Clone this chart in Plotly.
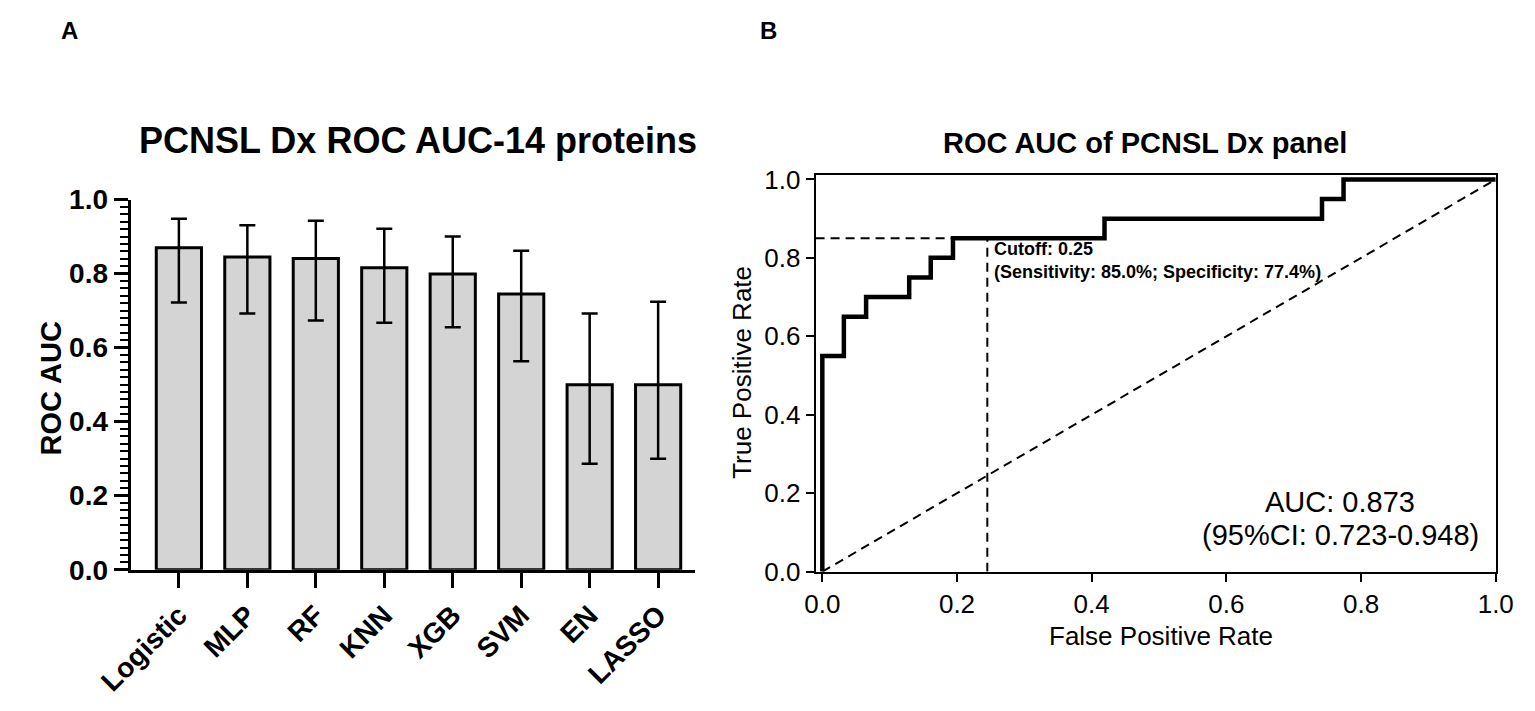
import plotly.graph_objects as go

# panel A - model comparison (mean ROC AUC with 95% CI)
models = ['Logistic', 'MLP', 'RF', 'KNN', 'XGB', 'SVM', 'EN', 'LASSO']
auc_mean = [0.870, 0.845, 0.841, 0.816, 0.799, 0.745, 0.500, 0.500]
auc_upper = [0.948, 0.931, 0.943, 0.921, 0.900, 0.862, 0.692, 0.724]
auc_lower = [0.722, 0.692, 0.673, 0.667, 0.655, 0.563, 0.286, 0.300]

# panel B - ROC curve of the diagnostic panel
fpr = [0.0, 0.0, 0.032, 0.065, 0.129, 0.161, 0.194, 0.419, 0.742, 0.774, 1.0]
tpr = [0.0, 0.55, 0.65, 0.70, 0.75, 0.80, 0.85, 0.90, 0.95, 1.0, 1.0]
cutoff_fpr = 0.245
cutoff_tpr = 0.85

W, H = 1535, 711
arial = 'Liberation Sans, Arial, sans-serif'


def px_x(p):
    return p / W


def px_y(p):
    return 1 - p / H


err_plus = [u - m for u, m in zip(auc_upper, auc_mean)]
err_minus = [m - l for m, l in zip(auc_mean, auc_lower)]

bars = go.Bar(
    x=models, y=auc_mean, width=0.66,
    marker=dict(color='#d4d4d4', line=dict(color='black', width=3)),
    error_y=dict(type='data', symmetric=False, array=err_plus, arrayminus=err_minus,
                 color='black', thickness=2.5, width=8),
    xaxis='x', yaxis='y', showlegend=False,
)

dash = dict(color='black', width=2, dash='9px,6px')
diag = go.Scatter(x=[0, 1], y=[0, 1], mode='lines', line=dash,
                  xaxis='x2', yaxis='y2', showlegend=False)
hcut = go.Scatter(x=[-0.01, cutoff_fpr], y=[cutoff_tpr, cutoff_tpr], mode='lines', line=dash,
                  xaxis='x2', yaxis='y2', showlegend=False)
vcut = go.Scatter(x=[cutoff_fpr, cutoff_fpr], y=[0, cutoff_tpr], mode='lines', line=dash,
                  xaxis='x2', yaxis='y2', showlegend=False)
roc = go.Scatter(x=fpr, y=tpr, mode='lines', line=dict(color='black', width=4.5, shape='hv'),
                 xaxis='x2', yaxis='y2', showlegend=False)

fig = go.Figure(data=[bars, diag, hcut, vcut, roc])

fig.update_layout(
    width=W, height=H,
    margin=dict(l=0, r=0, t=0, b=0),
    paper_bgcolor='white', plot_bgcolor='white',
    font=dict(family=arial, color='black'),
    xaxis=dict(
        domain=[px_x(100), px_x(684)], range=[-0.705, 7.536],
        showline=True, linewidth=3, linecolor='black',
        ticks='outside', ticklen=15, tickwidth=2.5, tickcolor='black',
        tickangle=-45, tickfont=dict(family=arial, size=28, weight='bold'),
        showgrid=False, zeroline=False,
    ),
    yaxis=dict(
        domain=[px_y(580), px_y(193)], range=[0, 1],
        dtick=0.2, tickformat='.1f',
        showline=True, linewidth=3, linecolor='black',
        ticks='outside', ticklen=14, tickwidth=3, tickcolor='black',
        minor=dict(dtick=0.02, ticks='outside', ticklen=8, tickwidth=2, tickcolor='black'),
        tickfont=dict(family=arial, size=28, weight='bold'),
        showgrid=False, zeroline=False,
    ),
    xaxis2=dict(
        domain=[px_x(809), px_x(1513)], range=[-0.01, 1.0], anchor='y2',
        dtick=0.2, tickformat='.1f',
        showline=True, mirror=True, linewidth=2, linecolor='black',
        ticks='outside', ticklen=8, tickwidth=1.5, tickcolor='black',
        tickfont=dict(family=arial, size=26),
        showgrid=False, zeroline=False,
    ),
    yaxis2=dict(
        domain=[px_y(582), px_y(167)], range=[0, 1.012], anchor='x2',
        dtick=0.2, tickformat='.1f',
        showline=True, mirror=True, linewidth=2, linecolor='black',
        ticks='outside', ticklen=8, tickwidth=1.5, tickcolor='black',
        tickfont=dict(family=arial, size=26),
        showgrid=False, zeroline=False,
    ),
)

annotations = [
    dict(text='<b>A</b>', x=px_x(37), y=px_y(16), font=dict(size=24)),
    dict(text='<b>B</b>', x=px_x(760), y=px_y(16), font=dict(size=24)),
    dict(text='<b>PCNSL Dx ROC AUC-14 proteins</b>', x=px_x(397), y=px_y(131),
         font=dict(size=36)),
    dict(text='<b>ROC AUC</b>', x=px_x(18), y=px_y(390), textangle=-90,
         font=dict(size=29)),
    dict(text='<b>ROC AUC of PCNSL Dx panel</b>', x=px_x(1150), y=px_y(134),
         font=dict(size=29)),
    dict(text='True Positive Rate', x=px_x(733), y=px_y(374), textangle=-90,
         font=dict(size=26)),
    dict(text='False Positive Rate', x=px_x(1166), y=px_y(649), font=dict(size=26)),
]
for a in annotations:
    a.update(xref='paper', yref='paper', showarrow=False, xanchor='center', yanchor='middle')

annotations += [
    dict(text='<b>Cutoff: 0.25</b>', x=0.252, y=0.822, xref='x2', yref='y2',
         showarrow=False, font=dict(size=18), xanchor='left', yanchor='middle'),
    dict(text='<b>(Sensitivity: 85.0%; Specificity: 77.4%)</b>', x=0.252, y=0.765,
         xref='x2', yref='y2', showarrow=False, font=dict(size=18),
         xanchor='left', yanchor='middle'),
    dict(text='AUC: 0.873', x=0.769, y=0.178, xref='x2', yref='y2', showarrow=False,
         font=dict(size=29), xanchor='center', yanchor='middle'),
    dict(text='(95%CI: 0.723-0.948)', x=0.769, y=0.094, xref='x2', yref='y2', showarrow=False,
         font=dict(size=29), xanchor='center', yanchor='middle'),
]
fig.update_layout(annotations=annotations)

fig.write_html('out.html', config={'displayModeBar': False},
               post_script="document.body.style.margin='0';document.body.style.overflow='hidden';")
